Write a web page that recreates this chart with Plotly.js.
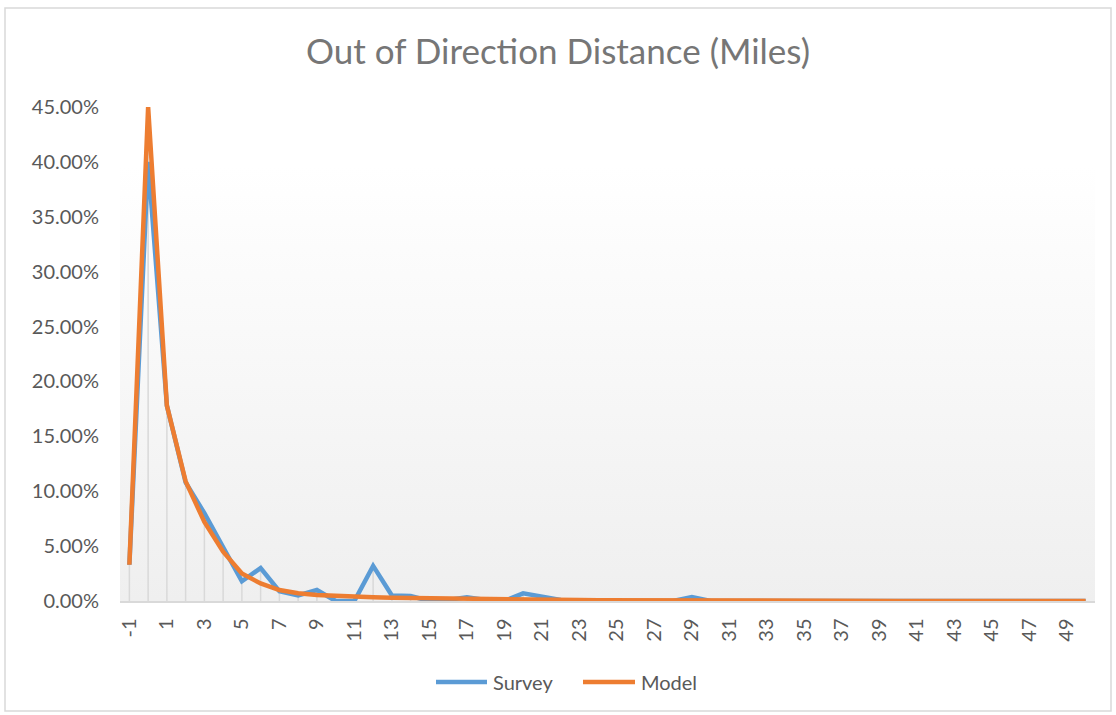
<!DOCTYPE html>
<html>
<head>
<meta charset="utf-8">
<script src="https://cdn.plot.ly/plotly-3.0.1.min.js"></script>
<style>html,body{margin:0;padding:0;background:#fff;}#chart{width:1116px;height:715px;}</style>
</head>
<body>
<div id="chart"></div>
<script>
const categories = [];
for (let v = -1; v <= 50; v++) categories.push(String(v));

const surveyValues = [
  0.033, 0.400, 0.178, 0.108, 0.080, 0.048, 0.018, 0.030, 0.009, 0.005,
  0.010, 0.000, 0.000, 0.032, 0.005, 0.0045, 0.000, 0.001, 0.0035, 0.001,
  0.000, 0.007, 0.0045, 0.001, 0.000, 0.000, 0.000, 0.000, 0.000, 0.000,
  0.0035, 0.000, 0.000, 0.000, 0.000, 0.000, 0.000, 0.000, 0.000, 0.000,
  0.000, 0.000, 0.000, 0.000, 0.000, 0.000, 0.000, 0.000, 0.000, 0.000,
  0.000, 0.000
];
const modelValues = [
  0.033, 0.450, 0.178, 0.109, 0.072, 0.045, 0.025, 0.016, 0.010, 0.007,
  0.0055, 0.0045, 0.004, 0.0035, 0.003, 0.0027, 0.0024, 0.002, 0.0018, 0.0016,
  0.0014, 0.0012, 0.001, 0.0009, 0.0008, 0.0007, 0.0006, 0.0005, 0.0004, 0.0004,
  0.0003, 0.0003, 0.0002, 0.0002, 0.0002, 0.0001, 0.0001, 0.0001, 0.0001, 0.0001,
  0.0001, 0.0001, 0.0001, 0.0001, 0.0001, 0.0001, 0.0001, 0.0001, 0.0001, 0.0001,
  0.0001, 0.0001
];
const seriesNames = ['Survey', 'Model'];
const seriesColors = ['#5b9bd5', '#ed7d31'];
const tickLabels = categories.filter((c, i) => i % 2 === 0);

// drop lines from highest series value down to the axis
const dropX = [], dropY = [];
categories.forEach((c, i) => {
  dropX.push(c, c, null);
  dropY.push(0, Math.max(surveyValues[i], modelValues[i]), null);
});

const grad = 'data:image/svg+xml;utf8,' + encodeURIComponent(
  '<svg xmlns="http://www.w3.org/2000/svg" width="100" height="100" preserveAspectRatio="none">' +
  '<defs><linearGradient id="g" x1="0" y1="0" x2="0" y2="1">' +
  '<stop offset="0" stop-color="#ffffff"/><stop offset="0.12" stop-color="#ffffff"/>' +
  '<stop offset="1" stop-color="#efefef"/></linearGradient></defs>' +
  '<rect width="100" height="100" fill="url(#g)"/></svg>');

const L = 120, R = 1095, T = 107, B = 601;
const px = x => (x - L) / (R - L);
const py = y => (B - y) / (B - T);
const FONT = 'Lato, "Open Sans", sans-serif';

const traces = [
  {x: dropX, y: dropY, type: 'scatter', mode: 'lines', showlegend: false, hoverinfo: 'skip',
   line: {color: '#d9d9d9', width: 1.5}},
  {x: categories, y: surveyValues, type: 'scatter', mode: 'lines', name: seriesNames[0], showlegend: false,
   line: {color: seriesColors[0], width: 4.5}},
  {x: categories, y: modelValues, type: 'scatter', mode: 'lines', name: seriesNames[1], showlegend: false,
   line: {color: seriesColors[1], width: 4.5}}
];

// manual legend (longer sample lines like the original)
const legendItems = [{x0: 436, x1: 487, tx: 491}, {x0: 583, x1: 635, tx: 639}];
const legendY = 682;
const shapes = [{type: 'rect', xref: 'paper', yref: 'paper', x0: px(5), x1: px(1111), y0: py(711), y1: py(8),
            line: {color: '#d9d9d9', width: 1.5}, fillcolor: 'rgba(0,0,0,0)', layer: 'below'}];
const annotations = [];
legendItems.forEach((it, k) => {
  shapes.push({type: 'line', xref: 'paper', yref: 'paper', x0: px(it.x0), x1: px(it.x1),
               y0: py(legendY), y1: py(legendY), line: {color: seriesColors[k], width: 4.5}});
  annotations.push({text: seriesNames[k], xref: 'paper', yref: 'paper', x: px(it.tx), y: py(legendY),
                    xanchor: 'left', yanchor: 'middle', showarrow: false,
                    font: {size: 20, color: '#595959', family: FONT}});
});

const layout = {
  width: 1116, height: 715,
  margin: {l: L, r: 1116 - R, t: T, b: 715 - B, pad: 0},
  paper_bgcolor: '#ffffff', plot_bgcolor: 'rgba(0,0,0,0)',
  font: {family: FONT, color: '#595959', size: 20},
  showlegend: false,
  title: {text: 'Out of Direction Distance (Miles)', x: 0.5, xref: 'container', xanchor: 'center',
          y: 1 - 52 / 715, yanchor: 'middle', yref: 'container',
          font: {size: 35, color: '#767676', family: FONT}},
  xaxis: {type: 'category', range: [-0.5, categories.length - 0.5], tickmode: 'array',
          tickvals: tickLabels, ticktext: tickLabels,
          tickangle: -90, showgrid: false, zeroline: false, showline: true,
          linecolor: '#d9d9d9', linewidth: 1.5, ticks: '', ticklen: 0, ticklabelstandoff: 8,
          tickfont: {size: 20, color: '#595959', family: FONT}, fixedrange: true},
  yaxis: {range: [0, 0.45], dtick: 0.05, tick0: 0, tickformat: '.2%', showgrid: false,
          zeroline: false, showline: false, ticks: '', ticklen: 0, ticklabelstandoff: 20,
          tickfont: {size: 20, color: '#595959', family: FONT}, fixedrange: true},
  images: [{source: grad, xref: 'paper', yref: 'paper', x: 0, y: 1, sizex: 1, sizey: 1,
            xanchor: 'left', yanchor: 'top', sizing: 'stretch', layer: 'below'}],
  shapes: shapes,
  annotations: annotations
};

Plotly.newPlot('chart', traces, layout, {displayModeBar: false, staticPlot: true});
</script>
</body>
</html>
